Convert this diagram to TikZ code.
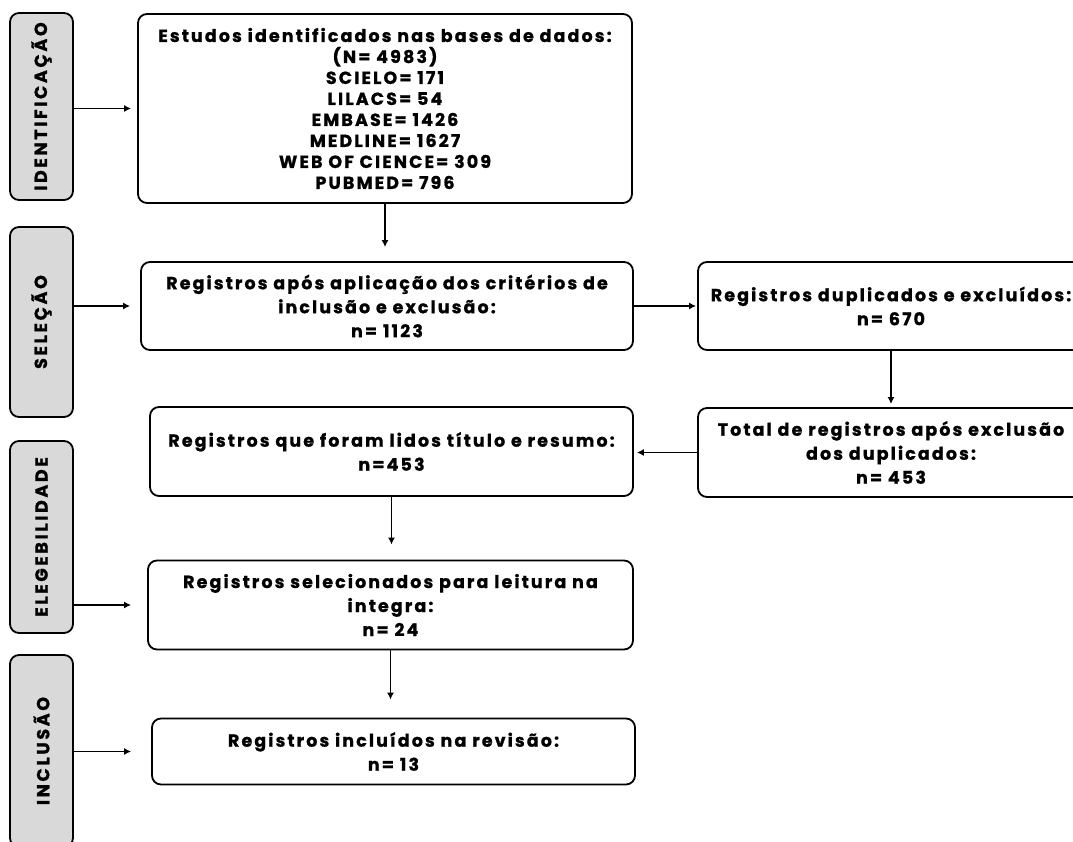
\documentclass[tikz,border=0pt]{standalone}
\usepackage{fontspec}
\setmainfont{Poppins}[LetterSpace=12, BoldFeatures={FakeBold=1}]
\usetikzlibrary{arrows.meta, positioning}
\definecolor{labelgray}{RGB}{217,217,217}

\begin{document}
\begin{tikzpicture}[x=1pt, y=-1pt, on grid, line width=1.8pt,
    box/.style={draw, rounded corners=9pt, align=center, inner sep=0pt,
      font=\bfseries\fontsize{17.5}{24}\selectfont},
    stage/.style={box, fill=labelgray, minimum width=63pt, minimum height=190pt,
      font=\bfseries\fontsize{17.5}{20}\selectfont\addfontfeatures{LetterSpace=15}},
    flow/.style={-{Latex[length=7pt,width=7pt]}}]
      \useasboundingbox (0,0) rectangle (1073,842);
      \clip (0,0) rectangle (1073,842);
      % etapas
      \node[stage, minimum height=187pt] (ident) at (41.5,106.5) {\rotatebox{90}{IDENTIFICAÇÃO}};
      \node[stage] (selec) [below=215.5pt of ident] {\rotatebox{90}{SELEÇÃO}};
      \node[stage, minimum height=192pt] (eleg)  [below=215pt of selec] {\rotatebox{90}{ELEGEBILIDADE}};
      \node[stage, minimum height=192pt] (incl)  [below=214pt of eleg]  {\rotatebox{90}{INCLUSÃO}};
      % registros
      \node[box, minimum width=494pt, minimum height=189pt,
            font=\bfseries\fontsize{17.5}{21}\selectfont] (estudos) at (385,108.5)
        {Estudos identificados nas bases de dados:\\(N= 4983)\\SCIELO= 171\\LILACS= 54\\
         EMBASE= 1426\\MEDLINE= 1627\\WEB OF CIENCE= 309\\PUBMED= 796};
      \node[box, minimum width=492pt, minimum height=88pt] (criterios) [below=197.5pt of estudos, xshift=2pt]
        {Registros após aplicação dos critérios de\\inclusão e exclusão:\\n= 1123};
      \node[box, minimum width=386pt, minimum height=88pt] (duplic) [right=504pt of criterios]
        {Registros duplicados e excluídos:\\n= 670};
      \node[box, minimum width=386pt, minimum height=89pt] (total) [below=146.5pt of duplic]
        {Total de registros após exclusão\\dos duplicados:\\n= 453};
      \node[box, minimum width=483pt, minimum height=89pt] (lidos) [left=499.5pt of total, yshift=1pt]
        {Registros que foram lidos título e resumo:\\n=453};
      \node[box, minimum width=485pt, minimum height=89pt] (integra) [below=153.5pt of lidos, xshift=-1pt]
        {Registros selecionados para leitura na\\integra:\\n= 24};
      \node[box, minimum width=483pt, minimum height=66pt] (incluidos) [below=146.5pt of integra, xshift=3pt]
        {Registros incluídos na revisão:\\n= 13};
      % setas
      \draw[flow, shorten >=6pt]  (ident.east |- estudos.west) -- (estudos.west);
      \draw[flow, shorten >=10pt] (selec.east |- criterios.west) -- (criterios.west);
      \draw[flow, shorten >=16pt] (eleg.east |- integra.west) -- (integra.west);
      \draw[flow, shorten >=20pt] (incl.east |- incluidos.west) -- (incluidos.west);
      \draw[flow, shorten >=14pt] (estudos.south) -- (estudos.south |- criterios.north);
      \draw[flow, shorten >=1pt]  (criterios.east) -- (duplic.west);
      \draw[flow, shorten >=3pt]  (duplic.south) -- (total.north);
      \draw[flow, shorten >=3pt]  (total.west) -- (total.west -| lidos.east);
      \draw[flow, shorten >=15pt] (lidos.south) -- (lidos.south |- integra.north);
      \draw[flow, shorten >=18pt] (integra.south) -- (integra.south |- incluidos.north);
    \end{tikzpicture}
\end{document}
